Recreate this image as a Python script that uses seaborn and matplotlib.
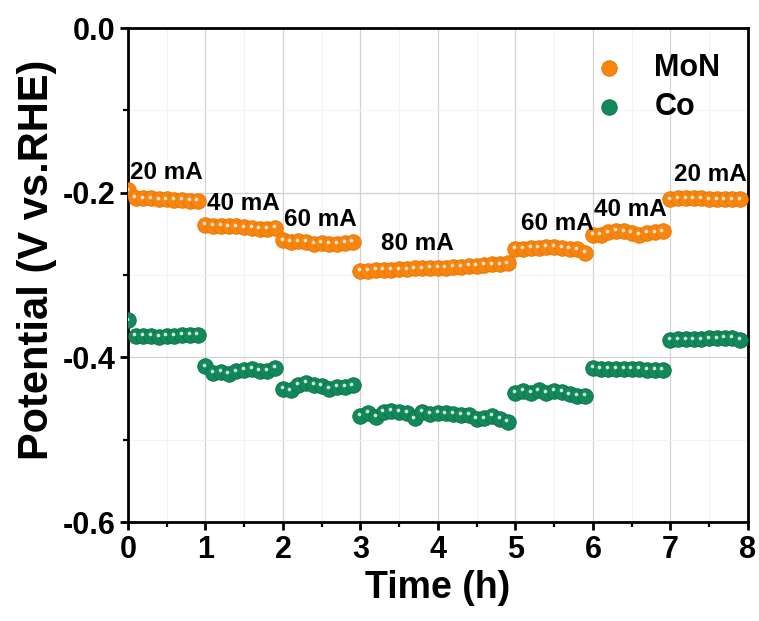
import numpy as np
import pandas as pd
import matplotlib.pyplot as plt
import matplotlib.transforms as mtransforms
import seaborn as sns

# time (h) of every recorded point
time_h = [0.0, 0.1, 0.2, 0.3, 0.4, 0.5, 0.6, 0.7, 0.8, 0.9,
          1.0, 1.1, 1.2, 1.3, 1.4, 1.5, 1.6, 1.7, 1.8, 1.9,
          2.0, 2.1, 2.2, 2.3, 2.4, 2.5, 2.6, 2.7, 2.8, 2.9,
          3.0, 3.1, 3.2, 3.3, 3.4, 3.5, 3.6, 3.7, 3.8, 3.9,
          4.0, 4.1, 4.2, 4.3, 4.4, 4.5, 4.6, 4.7, 4.8, 4.9,
          5.0, 5.1, 5.2, 5.3, 5.4, 5.5, 5.6, 5.7, 5.8, 5.9,
          6.0, 6.1, 6.2, 6.3, 6.4, 6.5, 6.6, 6.7, 6.8, 6.9,
          7.0, 7.1, 7.2, 7.3, 7.4, 7.5, 7.6, 7.7, 7.8, 7.9]

mon_potential = [-0.197, -0.206, -0.207, -0.207, -0.208, -0.208, -0.209, -0.209, -0.210, -0.210,
                 -0.239, -0.240, -0.240, -0.241, -0.241, -0.242, -0.243, -0.244, -0.244, -0.243,
                 -0.258, -0.260, -0.259, -0.260, -0.262, -0.261, -0.262, -0.262, -0.261, -0.260,
                 -0.295, -0.295, -0.294, -0.294, -0.294, -0.293, -0.293, -0.292, -0.292, -0.291,
                 -0.291, -0.291, -0.290, -0.290, -0.289, -0.289, -0.288, -0.287, -0.287, -0.286,
                 -0.268, -0.268, -0.267, -0.267, -0.266, -0.266, -0.267, -0.268, -0.269, -0.273,
                 -0.251, -0.251, -0.248, -0.246, -0.247, -0.249, -0.251, -0.249, -0.248, -0.247,
                 -0.208, -0.207, -0.207, -0.207, -0.207, -0.208, -0.208, -0.208, -0.208, -0.208]

co_potential = [-0.355, -0.374, -0.374, -0.374, -0.375, -0.374, -0.374, -0.373, -0.373, -0.373,
                -0.411, -0.419, -0.418, -0.420, -0.417, -0.415, -0.414, -0.416, -0.416, -0.413,
                -0.438, -0.440, -0.433, -0.431, -0.433, -0.435, -0.438, -0.436, -0.436, -0.434,
                -0.471, -0.467, -0.472, -0.466, -0.465, -0.466, -0.467, -0.474, -0.466, -0.469,
                -0.467, -0.468, -0.469, -0.470, -0.470, -0.475, -0.474, -0.471, -0.475, -0.478,
                -0.443, -0.441, -0.443, -0.440, -0.443, -0.441, -0.442, -0.445, -0.447, -0.447,
                -0.413, -0.414, -0.414, -0.414, -0.414, -0.414, -0.414, -0.415, -0.415, -0.415,
                -0.379, -0.378, -0.378, -0.378, -0.378, -0.377, -0.377, -0.376, -0.376, -0.379]

currents = ['20 mA', '40 mA', '60 mA', '80 mA', '60 mA', '40 mA', '20 mA']
# where the current labels sit (left edge, centre), in data units
label_x = [0.02, 1.02, 2.01, 3.26, 5.07, 6.01, 7.05]
label_y = [-0.175, -0.213, -0.233, -0.262, -0.237, -0.220, -0.178]

colors = {'MoN': '#F8860E', 'Co': '#12895A'}
edges = {'MoN': '#E87400', 'Co': '#0C7048'}

df = pd.DataFrame({
    'Time': time_h + time_h,
    'Potential': mon_potential + co_potential,
    'Catalyst': ['MoN'] * len(time_h) + ['Co'] * len(time_h),
})

sns.set_style('ticks')
plt.rcParams['font.family'] = ['Liberation Sans', 'DejaVu Sans']
plt.rcParams['font.weight'] = 'bold'
plt.rcParams['text.color'] = 'black'
plt.rcParams['axes.labelcolor'] = 'black'
plt.rcParams['xtick.color'] = 'black'
plt.rcParams['ytick.color'] = 'black'

fig = plt.figure(figsize=(7.59, 6.21), dpi=100)
ax = fig.add_axes([0.1686, 0.1594, 0.8169, 0.7955])

for cat in ['MoN', 'Co']:
    sub = df[df['Catalyst'] == cat]
    sns.scatterplot(data=sub, x='Time', y='Potential', color=colors[cat], label=cat,
                    s=125, linewidth=0.6, edgecolor=edges[cat], ax=ax, zorder=3)

# small white highlight to give the markers a spherical look
shift = mtransforms.ScaledTranslation(-1.0 / 72, 1.2 / 72, fig.dpi_scale_trans)
ax.scatter(df['Time'], df['Potential'], s=7, color='white', alpha=0.8,
           linewidth=0, transform=ax.transData + shift, zorder=4)

for txt, x, y in zip(currents, label_x, label_y):
    ax.text(x, y, txt, ha='left', va='center', fontsize=17.5, fontweight='bold', zorder=5)

ax.set_xlim(0, 8)
ax.set_ylim(-0.6, 0.0)
ax.set_xticks(range(0, 9))
ax.set_xticks(np.arange(0.5, 8, 1.0), minor=True)
ax.set_yticks([-0.6, -0.4, -0.2, 0.0])
ax.set_yticks([-0.5, -0.3, -0.1], minor=True)
ax.set_yticklabels(['-0.6', '-0.4', '-0.2', '0.0'])

ax.grid(True, which='major', color='#d2d2d2', linewidth=0.9, zorder=0)
ax.grid(True, which='minor', color='#f3f3f3', linewidth=0.8, zorder=0)
ax.set_axisbelow(True)

for side in ['left', 'bottom', 'top', 'right']:
    ax.spines[side].set_visible(True)
    ax.spines[side].set_linewidth(2.0)
    ax.spines[side].set_color('black')

ax.tick_params(which='major', direction='out', length=6, width=2, labelsize=22,
               top=False, right=False, pad=3)
ax.tick_params(which='minor', direction='out', length=3.5, width=1.6, top=False, right=False)
for lab in ax.get_xticklabels() + ax.get_yticklabels():
    lab.set_fontweight('bold')

ax.set_xlabel('Time (h)', fontsize=27, fontweight='bold', labelpad=4)
ax.set_ylabel('Potential (V vs.RHE)', fontsize=30, fontweight='bold', labelpad=4)
ax.yaxis.set_label_coords(-0.115, 0.53)

handles, labels = ax.get_legend_handles_labels()
leg = ax.legend(handles[:2], labels[:2], loc='upper right', bbox_to_anchor=(1.0, 1.005),
                frameon=False, prop={'size': 22, 'weight': 'bold'},
                handletextpad=0.5, labelspacing=0.3, markerscale=1.0)

fig.savefig('out.png', dpi=100)
